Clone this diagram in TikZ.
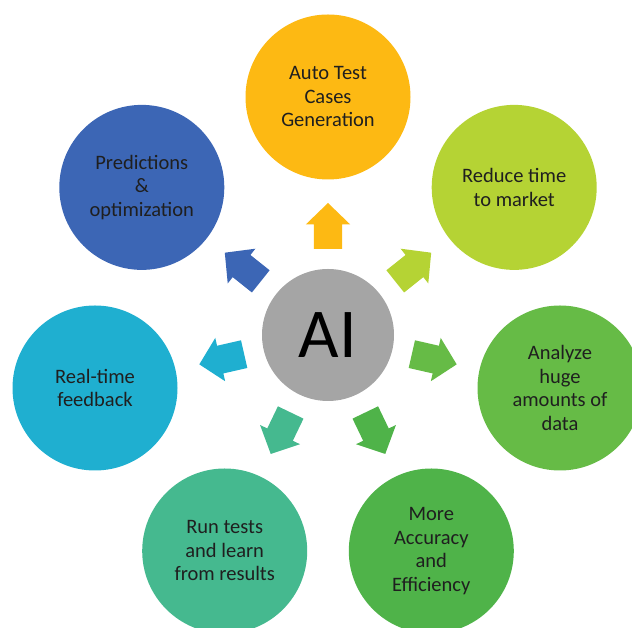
\documentclass[tikz,border=0pt]{standalone}
\usepackage{fontspec}
\setmainfont{Carlito}
\usetikzlibrary{shapes.arrows,calc}
\tikzset{
  x=1pt,y=1pt,
  bubble/.style={circle,fill=#1,minimum size=165pt,inner sep=0pt,outer sep=0pt,text=black!88,align=center,font=\fontsize{20.5}{23.5}\selectfont},
  blockarrow/.style={single arrow,fill=#1,minimum height=46pt,single arrow head extend=8pt,single arrow tip angle=92,inner sep=0pt,outer sep=0pt,anchor=tip},
}
\definecolor{cyellow}{HTML}{FDB913}
\definecolor{clime}{HTML}{B5D334}
\definecolor{cgreen}{HTML}{66BB46}
\definecolor{cdark}{HTML}{4FB349}
\definecolor{cteal}{HTML}{45B98F}
\definecolor{ccyan}{HTML}{1FAFD0}
\definecolor{cblue}{HTML}{3C66B5}
\definecolor{cgray}{HTML}{A5A5A5}
\begin{document}
\begin{tikzpicture}
\useasboundingbox (0,0) rectangle (632,628);
\clip (0,0) rectangle (632,628);
\node[circle,fill=cgray,minimum size=132pt,inner sep=0pt,font=\fontsize{70}{70}\selectfont,text=black] (ai) at (328,293) {AI};
\node[bubble=cyellow] (b1) at (328,531) {Auto Test\\Cases\\Generation};
\node[bubble=clime] (b2) at (514.2,440.6) {Reduce time\\to market};
\node[bubble=cgreen] (b3) at (560,240) {Analyze\\huge\\amounts of\\data};
\node[bubble=cdark] (b4) at (431.3,77) {More\\Accuracy\\and\\Efficiency};
\node[bubble=cteal] (b5) at (224.7,77) {Run tests\\and learn\\from results};
\node[bubble=ccyan] (b6) at (95,240) {Real-time\\feedback};
\node[bubble=cblue] (b7) at (141.8,440.6) {Predictions\\\&\\optimization};
\foreach \a/\c/\n in {90/cyellow/a1,38.57/clime/a2,-12.86/cgreen/a3,-64.29/cdark/a4,-115.71/cteal/a5,-167.14/ccyan/a6,141.43/cblue/a7}{
  \node[blockarrow=\c,rotate=\a] (\n) at ($(ai.center)+(\a:132)$) {\rule{0pt}{28pt}};
}
\end{tikzpicture}
\end{document}
